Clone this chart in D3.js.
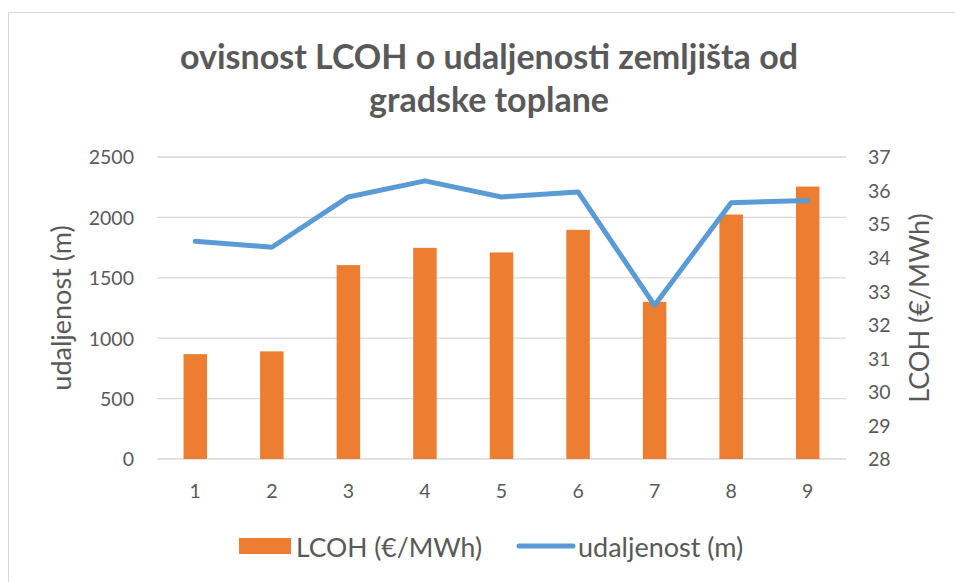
<!DOCTYPE html>
<html>
<head>
<meta charset="utf-8">
<script src="https://cdn.jsdelivr.net/npm/d3@7"></script>
<style>
  body { margin: 0; background: #fff; }
  svg text { font-family: Lato, "Open Sans", sans-serif; fill: #595959; }
</style>
</head>
<body>
<div id="chart"></div>
<script>
// categories on the x axis
const categories = ["1", "2", "3", "4", "5", "6", "7", "8", "9"];
// bars, read against the left axis (0 - 2500)
const barValues = [868, 891, 1605, 1748, 1710, 1897, 1301, 2024, 2255];
// line, read against the right axis (28 - 37)
const lineValues = [34.49, 34.31, 35.81, 36.29, 35.81, 35.96, 32.58, 35.64, 35.70];
const leftTicks = [0, 500, 1000, 1500, 2000, 2500];
const rightTicks = [28, 29, 30, 31, 32, 33, 34, 35, 36, 37];
const titleLines = ["ovisnost LCOH o udaljenosti zemljišta od", "gradske toplane"];
const seriesNames = ["LCOH (€/MWh)", "udaljenost (m)"];
const axisTitles = ["udaljenost (m)", "LCOH (€/MWh)"];

const width = 955, height = 582;
const margin = {top: 157, right: 109, bottom: 123, left: 157};
const barColor = "#ed7d31", lineColor = "#5b9bd5", gridColor = "#d9d9d9";

const svg = d3.select("#chart").append("svg")
    .attr("width", width)
    .attr("height", height);

// chart area border
svg.append("rect")
    .attr("x", 8.5).attr("y", 12.5)
    .attr("width", width + 10).attr("height", height + 10)
    .attr("fill", "none")
    .attr("stroke", gridColor);

const x = d3.scaleBand()
    .domain(categories)
    .range([margin.left, width - margin.right]);

const yLeft = d3.scaleLinear()
    .domain([0, 2500])
    .range([height - margin.bottom, margin.top]);

const yRight = d3.scaleLinear()
    .domain([28, 37])
    .range([height - margin.bottom, margin.top]);

// gridlines
svg.append("g")
    .selectAll("line")
    .data(leftTicks)
    .join("line")
    .attr("x1", margin.left).attr("x2", width - margin.right)
    .attr("y1", d => yLeft(d)).attr("y2", d => yLeft(d))
    .attr("stroke", gridColor)
    .attr("stroke-width", 1.3);

// left axis
const leftAxis = svg.append("g")
    .attr("transform", `translate(${margin.left - 23},0)`)
    .call(d3.axisLeft(yLeft).tickValues(leftTicks).tickFormat(d3.format("d")).tickSize(0).tickPadding(0));
leftAxis.select(".domain").remove();

// right axis
const rightAxis = svg.append("g")
    .attr("transform", `translate(${width - margin.right + 22},0)`)
    .call(d3.axisRight(yRight).tickValues(rightTicks).tickFormat(d3.format("d")).tickSize(0).tickPadding(0));
rightAxis.select(".domain").remove();

// bottom axis
const bottomAxis = svg.append("g")
    .attr("transform", `translate(0,${height - margin.bottom})`)
    .call(d3.axisBottom(x).tickSize(0).tickPadding(0));
bottomAxis.select(".domain").remove();

svg.selectAll(".tick text")
    .style("font-size", "19.5px")
    .attr("fill", "#595959")
    .attr("dy", null);
leftAxis.selectAll(".tick text").attr("dy", "0.35em");
rightAxis.selectAll(".tick text").attr("dy", "0.35em");
bottomAxis.selectAll(".tick text").attr("y", 39);

// bars
const barWidth = x.bandwidth() * 0.307;
svg.append("g")
    .selectAll("rect")
    .data(barValues)
    .join("rect")
    .attr("x", (d, i) => x(categories[i]) + (x.bandwidth() - barWidth) / 2)
    .attr("y", d => yLeft(d))
    .attr("width", barWidth)
    .attr("height", d => yLeft(0) - yLeft(d))
    .attr("fill", barColor);

// line
const line = d3.line()
    .x((d, i) => x(categories[i]) + x.bandwidth() / 2)
    .y(d => yRight(d));

svg.append("path")
    .datum(lineValues)
    .attr("d", line)
    .attr("fill", "none")
    .attr("stroke", lineColor)
    .attr("stroke-width", 5)
    .attr("stroke-linejoin", "round")
    .attr("stroke-linecap", "round");

// title
svg.append("text")
    .attr("text-anchor", "middle")
    .style("font-size", "34px")
    .style("font-weight", "bold")
    .selectAll("tspan")
    .data(titleLines)
    .join("tspan")
    .attr("x", 489)
    .attr("y", (d, i) => 69 + i * 43)
    .text(d => d);

// axis titles
svg.append("text")
    .attr("transform", `translate(71,308) rotate(-90)`)
    .attr("text-anchor", "middle")
    .style("font-size", "27px")
    .text(axisTitles[0]);

svg.append("text")
    .attr("transform", `translate(929,308) rotate(-90)`)
    .attr("text-anchor", "middle")
    .style("font-size", "27px")
    .text(axisTitles[1]);

// legend
const legend = svg.append("g");
legend.append("rect")
    .attr("x", 239).attr("y", 538)
    .attr("width", 52).attr("height", 16)
    .attr("fill", barColor);
legend.append("text")
    .attr("x", 296).attr("y", 556.5)
    .style("font-size", "26.5px")
    .text(seriesNames[0]);
legend.append("line")
    .attr("x1", 519).attr("x2", 573)
    .attr("y1", 546).attr("y2", 546)
    .attr("stroke", lineColor)
    .attr("stroke-width", 5)
    .attr("stroke-linecap", "round");
legend.append("text")
    .attr("x", 578).attr("y", 556.5)
    .style("font-size", "27px")
    .text(seriesNames[1]);
</script>
</body>
</html>
